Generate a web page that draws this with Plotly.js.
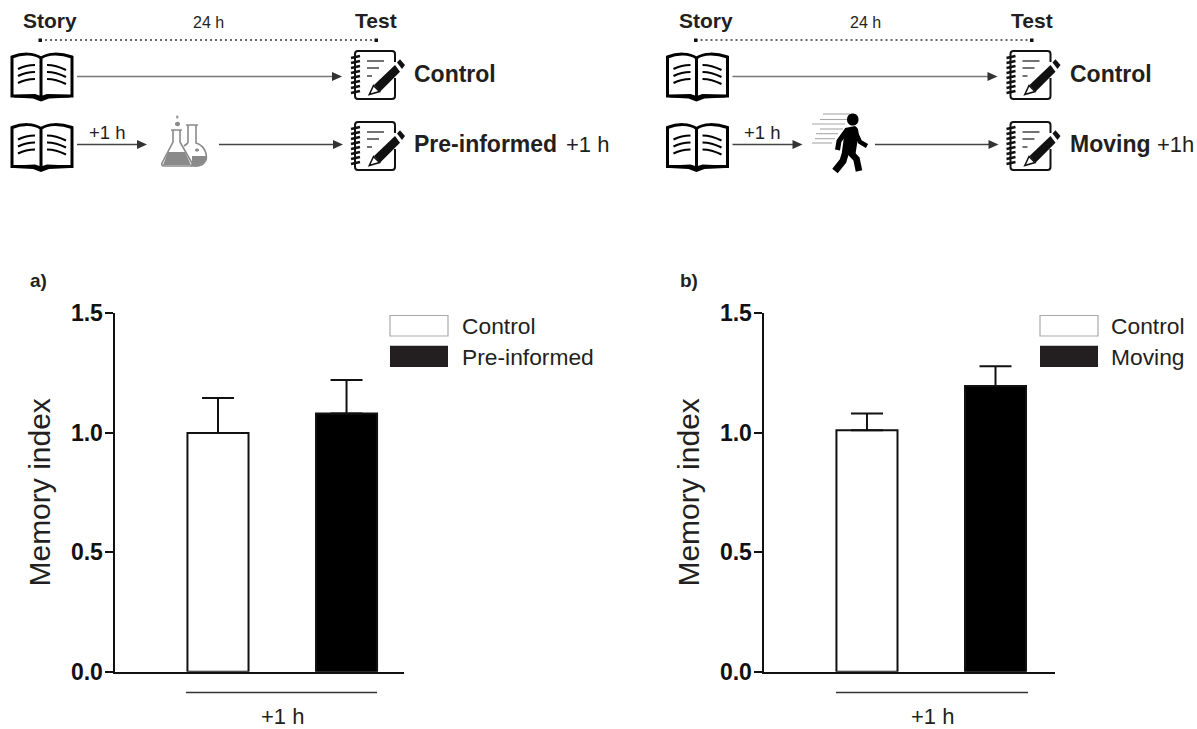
<!DOCTYPE html>
<html>
<head>
<meta charset="utf-8">
<script src="https://cdn.plot.ly/plotly-3.0.1.min.js"></script>
<style>html,body{margin:0;padding:0;background:#fff}#chart{width:1197px;height:729px}</style>
</head>
<body>
<div id="chart"></div>
<script>
// ---------- data ----------
var categoriesA = ["Control", "Pre-informed"];
var valuesA = [0.998, 1.08];
var errorsA = [0.147, 0.14];
var categoriesB = ["Control", "Moving"];
var valuesB = [1.01, 1.195];
var errorsB = [0.07, 0.082];
var yTicks = [0, 0.5, 1, 1.5];
var yTickLabels = ["0.0", "0.5", "1.0", "1.5"];
var yAxisLabel = "Memory index";
var groupLabel = "+1 h";

// ---------- page helpers ----------
var W = 1197, H = 729, FONT = '"Liberation Sans", Arial, sans-serif', INK = '#231f20';
var shapes = [], annotations = [];
function px(x) { return x / W; }
function py(y) { return 1 - y / H; }
function pathOf(d, dx, dy) {
  return d.replace(/(-?[\d.]+),(-?[\d.]+)/g, function (m, a, b) {
    return px(+a + dx) + ',' + py(+b + dy);
  });
}
function stroke(d, dx, dy, color, w, fill) {
  shapes.push({ type: 'path', xref: 'paper', yref: 'paper', path: pathOf(d, dx, dy),
    line: { color: color, width: w }, fillcolor: fill || 'rgba(0,0,0,0)' });
}
function solid(d, dx, dy, color) {
  shapes.push({ type: 'path', xref: 'paper', yref: 'paper', path: pathOf(d, dx, dy),
    line: { width: 0 }, fillcolor: color });
}
function hline(x0, x1, y, color, w, dash) {
  shapes.push({ type: 'line', xref: 'paper', yref: 'paper', x0: px(x0), x1: px(x1), y0: py(y), y1: py(y),
    line: { color: color, width: w, dash: dash || 'solid' } });
}
function label(text, x, y, size, anchor, color) {
  annotations.push({ xref: 'paper', yref: 'paper', x: px(x), y: py(y), text: text, showarrow: false,
    xanchor: anchor || 'left', yanchor: 'middle', borderpad: 0, borderwidth: 0,
    font: { family: FONT, size: size, color: color || INK } });
}
function arrow(x0, x1, y, color) {
  hline(x0, x1 - 8, y, color, 1.4);
  solid('M' + (x1 - 10) + ',' + (y - 4.5) + ' L' + x1 + ',' + y + ' L' + (x1 - 10) + ',' + (y + 4.5) + ' Z', 0, 0, '#333');
}
function book(dx, dy) {
  var k = '#000';
  stroke('M41,58 C34,53 22,53 12,57 L12,96 L34,96 L41,99 L48,96 L72,96 L72,57 C60,53 48,53 41,58 L41,97', dx, dy, k, 3);
  solid('M14,95 L35,94 L41,96 L47,94 L70,95 L70,97.5 L49,98.5 L41,101.5 L33,98.5 L14,97.5 Z', dx, dy, k);
  stroke('M18,69 C24,66 30,65 35,65 M18,76 C24,73 30,72 35,72 M18,83 C24,80 30,79 35,79', dx, dy, k, 2.2);
  stroke('M47,65 C53,65 60,67 66,70 M47,72 C53,72 60,74 66,77 M47,79 C53,79 60,81 66,84', dx, dy, k, 2.2);
}
function notebook(dx, dy) {
  var k = '#111';
  stroke('M395,62 L395,54 Q395,51 392,51 L358,51 Q355,51 355,54 L355,96 Q355,99 358,99 L392,99 Q395,99 395,96 L395,78', dx, dy, k, 2);
  stroke('M351,58 L360,56 M351,63 L360,61 M351,68 L360,66 M351,73 L360,71 M351,78 L360,76 M351,83 L360,81 M351,88 L360,86 M351,93 L360,91', dx, dy, k, 2.6);
  stroke('M367,61 L384,61 M367,68 L379,68 M367,76 L372,76', dx, dy, '#444', 1.5);
  solid('M374,85 L395,65 L400,71.7 L380,91.7 Z', dx, dy, k);
  stroke('M369.3,94.5 L373.5,85.5 L379.5,91.5 Z', dx, dy, k, 1.6, '#fff');
  solid('M397,62.5 L400,59.3 L405,65 L402,69 Z', dx, dy, k);
}
function flask(dx, dy) {
  var g = '#8a8a8a';
  stroke('M171,130 L182,130 M173,130 L173,142 L162,163 Q161,166 164,166 L190,166 Q193,166 192,163 L180,142 L180,130', dx, dy, g, 1.6, '#fff');
  solid('M168,152 L185,152 L191,165 L163,165 Z', dx, dy, g);
  stroke('M186,125 L198,125 M188,125 L188,143 M196,125 L196,143 C206,146 209,158 204,163 C201,167 196,166 191,166 M184,146 L188,143', dx, dy, g, 1.6);
  solid('M192,156 L207,156 C206,163 201,166 192,166 Z', dx, dy, g);
  solid('M192,146 C192,144 196,144 196,146 C196,148 192,148 192,146 Z', dx + 3, dy + 4, g);
  solid('M175,124 C175,121 180,121 180,124 C180,127 175,127 175,124 Z', dx, dy, g);
  solid('M176,117 C176,115 178.5,115 178.5,117 C178.5,119 176,119 176,117 Z', dx, dy, '#999');
}
function walker(dx, dy) {
  var k = '#000';
  var lines = [[823, 850, 114], [820, 848, 119.5], [812, 845, 124], [820, 843, 129], [816, 838, 133.7], [815, 835, 138.7], [812, 832, 143]];
  lines.forEach(function (l) { hline(l[0] + dx, l[1] + dx, l[2] + dy, '#a8a8a8', 1.1); });
  solid('M847,119.5 C847,111.5 858.5,111.5 858.5,119.5 C858.5,127.5 847,127.5 847,119.5 Z', dx, dy, k);
  solid('M845,128 L855,126 C859,128 859,133 858,138 L855,157 L842,152 Z', dx, dy, k);
  stroke('M847,130 L839,141 L837.5,150', dx, dy, k, 5);
  stroke('M855,131 L860,142 L867,146', dx, dy, k, 4.4);
  stroke('M848,150 L856.5,159 L859,171', dx, dy, k, 6.6);
  stroke('M846,151 L843,161 L835,171', dx, dy, k, 7);
}
function header(dx, name, plain, nameX, plainX) {
  label('<b>Story</b>', 50 + dx, 21, 21, 'center');
  label('24 h', 208 + (dx ? 2 : 0) + dx, 22, 16, 'center');
  label('<b>Test</b>', 376 + dx, 21, 21, 'center');
  hline(40 + dx, 376 + dx, 40, '#333', 1.6, '2px,3px');
  solid('M38.5,38.5 L42,38.5 L42,42 L38.5,42 Z', dx, 0, '#111');
  solid('M374.5,38.5 L378,38.5 L378,42 L374.5,42 Z', dx, 0, '#111');
  book(dx, 0); book(dx, 70.5);
  notebook(dx, 0); notebook(dx, 71);
  arrow(77 + dx, 342 + dx, 76.5, '#777');
  arrow(77 + dx, 147 + dx, 144.5, '#444');
  arrow((dx ? 875 : 219), 343 + dx, 144.5, '#444');
  label('+1 h', 107 + dx, 132, 18.5, 'center');
  label('<b>Control</b>', 414 + dx, 74, 23);
  label('<b>' + name + '</b>', nameX, 144, 23);
  label(plain, plainX, 144, 22);
}
function panelDecor(tag, tagX, legendNames, swX, textX, lineX0, lineX1, groupX) {
  label('<b>' + tag + '</b>', tagX, 280, 19);
  solid('M' + swX + ',315 L' + (swX + 58) + ',315 L' + (swX + 58) + ',336.5 L' + swX + ',336.5 Z', 0, 0, '#fff');
  stroke('M' + swX + ',315.5 L' + (swX + 58) + ',315.5 L' + (swX + 58) + ',336 L' + swX + ',336 Z', 0, 0, '#aaa', 1.2);
  solid('M' + swX + ',345.7 L' + (swX + 58) + ',345.7 L' + (swX + 58) + ',367 L' + swX + ',367 Z', 0, 0, INK);
  label(legendNames[0], textX, 326, 22.8);
  label(legendNames[1], textX, 357, 22.8);
  hline(lineX0, lineX1, 692.5, '#333', 1.6);
  label(groupLabel, groupX, 716.5, 22, 'center');
}

header(0, 'Pre-informed', '+1 h', 414, 566);
header(655.5, 'Moving', '+1h', 1070, 1157);
flask(0, 0);
walker(0, 0);
panelDecor('a)', 30, categoriesA, 390, 462, 186, 377, 282);
panelDecor('b)', 680, categoriesB, 1040, 1111, 836, 1028, 932);

// ---------- chart ----------
var TOP = 313, BOTTOM = 671.7;
function yAxis(anchor) {
  return { anchor: anchor, domain: [py(BOTTOM), py(TOP)], range: [0, 1.5], tickmode: 'array', tickvals: yTicks,
    ticktext: yTickLabels, ticks: 'outside', ticklen: 8, tickwidth: 2, tickcolor: '#111', showline: true,
    linecolor: '#111', linewidth: 2, showgrid: false, zeroline: false, fixedrange: true, ticklabelstandoff: -3,
    tickfont: { family: FONT, size: 23, color: '#111', weight: 'bold' },
    title: { text: yAxisLabel, standoff: 11, font: { family: FONT, size: 30, color: INK } } };
}
function xAxis(anchor, cats, left, right, end) {
  return { anchor: anchor, domain: [px(left), px(right)], type: 'category', categoryorder: 'array', categoryarray: cats,
    range: [-0.805, end], showticklabels: false, ticks: '', showline: true, linecolor: '#111', linewidth: 2,
    showgrid: false, zeroline: false, fixedrange: true };
}
function bars(cats, vals, errs, xa, ya) {
  return { type: 'bar', x: cats, y: vals, xaxis: xa, yaxis: ya, width: 0.475, showlegend: false, hoverinfo: 'x+y',
    marker: { color: ['#ffffff', '#000000'], line: { color: '#111', width: 2 } },
    error_y: { type: 'data', symmetric: false, array: errs, arrayminus: [0, 0], color: '#111', thickness: 2, width: 16 } };
}
var traces = [bars(categoriesA, valuesA, errorsA, 'x', 'y'), bars(categoriesB, valuesB, errorsB, 'x2', 'y2')];
var layout = {
  width: W, height: H, margin: { l: 0, r: 0, t: 0, b: 0 }, paper_bgcolor: '#fff', plot_bgcolor: 'rgba(0,0,0,0)',
  showlegend: false, bargap: 0,
  xaxis: xAxis('y', categoriesA, 114.5, 404, 1.447),
  yaxis: yAxis('x'),
  xaxis2: xAxis('y2', categoriesB, 763.5, 1054.5, 1.459),
  yaxis2: yAxis('x2'),
  shapes: shapes, annotations: annotations
};
Plotly.newPlot('chart', traces, layout, { displayModeBar: false, staticPlot: true });
</script>
</body>
</html>
